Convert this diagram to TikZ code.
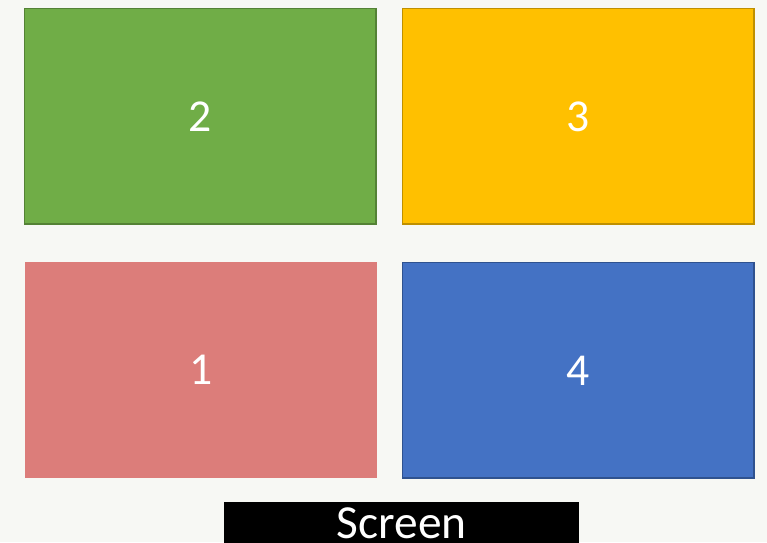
\documentclass[tikz,border=0pt]{standalone}
\usepackage{fontspec}
\setmainfont{Carlito}
\usepackage{xcolor}
\definecolor{bgpaper}{RGB}{247,248,244}
\definecolor{tilegreen}{RGB}{112,173,71}
\definecolor{tilegreenline}{RGB}{84,130,53}
\definecolor{tileyellow}{RGB}{255,192,0}
\definecolor{tileyellowline}{RGB}{191,144,0}
\definecolor{tilered}{RGB}{220,125,122}
\definecolor{tileblue}{RGB}{68,114,196}
\definecolor{tileblueline}{RGB}{47,82,143}

\begin{document}
\begin{tikzpicture}[
    x=0.02cm, y=-0.02cm,
    tile/.style={rectangle, anchor=north west, minimum width=7.04cm, minimum height=4.32cm,
      inner sep=0pt, text=white, font=\fontsize{26}{30}\selectfont, line width=1.1pt},
    screenbar/.style={rectangle, anchor=north west, fill=black, text=white, inner xsep=0pt,
      inner ysep=0.12cm, text height=0.6cm, text depth=0.3cm,
      minimum width=7.1cm, font=\fontsize{27}{30}\selectfont},
  ]

  % --- background ---
  \fill[bgpaper] (0,0) rectangle (767,542);
  \useasboundingbox (0,0) rectangle (767,542);

  % --- tiles ---
  \node[tile, fill=tilegreen, draw=tilegreenline] (t2) at (23.5,7.5) {2};
  \node[tile, fill=tileyellow, draw=tileyellowline] (t3) at (401.5,7.5) {3};
  \node[tile, fill=tilered] (t1) at (24,261) {1};
  \node[tile, fill=tileblue, draw=tileblueline] (t4) at (401.5,261.5) {4};

  % --- screen ---
  \node[screenbar] (scr) at (224,502) {Screen};

\end{tikzpicture}
\end{document}
